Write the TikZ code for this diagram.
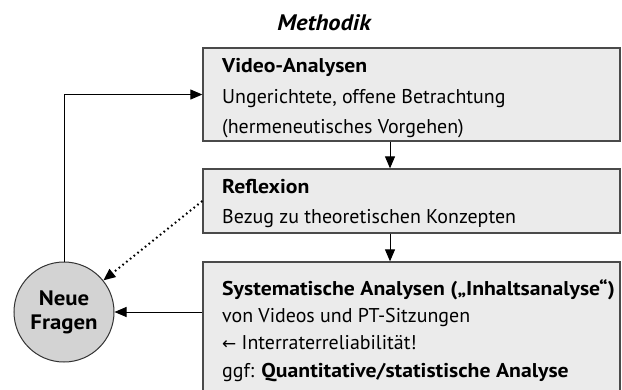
\documentclass[tikz,border=0pt]{standalone}
\usepackage{fontspec}
\setmainfont{PT Sans}[BoldFeatures={FakeStretch=1.09},BoldItalicFeatures={FakeStretch=1.09}]
\newfontfamily\dejavu{DejaVu Sans}
\usetikzlibrary{arrows.meta,calc}
\definecolor{boxfill}{HTML}{EBEBEB}
\definecolor{boxdraw}{HTML}{4A4A4A}
\definecolor{circfill}{HTML}{D3D3D3}
\tikzset{
  box/.style={draw=boxdraw, line width=1.3bp, fill=boxfill, rectangle, inner sep=0pt, minimum width=417bp},
  txt/.style={anchor=base west, inner sep=0pt, font=\fontsize{20}{24}\selectfont},
  btxt/.style={txt, font=\fontsize{20}{24}\selectfont\bfseries},
  arr/.style={line width=1bp, -{Triangle[length=12bp,width=10bp]}},
  dotarr/.style={line width=2bp, dash pattern=on 1.6bp off 3.2bp, -{Triangle[length=12bp,width=10bp]}},
}
\begin{document}
\begin{tikzpicture}[x=1bp,y=-1bp]
\useasboundingbox (0,0) rectangle (622,389);
\node[anchor=base, inner sep=0pt, font=\fontsize{22.5}{26}\selectfont\bfseries\itshape] (title) at (324,30) {Methodik};
\node[box, minimum height=93bp] (b1) at (411.5,94.5) {};
\node[box, minimum height=64bp] (b2) at (411.5,201) {};
\node[box, minimum height=130bp] (b3) at (411.5,327) {};
\node[btxt] (t11) at (222,72) {Video-Analysen};
\node[txt] (t12) at (222,103) {Ungerichtete, offene Betrachtung};
\node[txt] (t13) at (222,133) {(hermeneutisches Vorgehen)};
\node[btxt] (t21) at (222,193) {Reflexion};
\node[txt] (t22) at (222,223) {Bezug zu theoretischen Konzepten};
\node[btxt] (t31) at (222,295) {Systematische Analysen („Inhaltsanalyse“)};
\node[txt] (t32) at (222,322) {von Videos und PT-Sitzungen};
\node[txt] (t33) at (222,349) {{\dejavu\fontsize{17}{20}\selectfont ←} Interraterreliabilität!};
\node[txt] (t34) at (222,377) {ggf: \textbf{Quantitative/statistische Analyse}};
\node[circle, draw=black!80, line width=1bp, fill=circfill, minimum size=100bp, inner sep=0pt, align=center, font=\fontsize{21}{24}\selectfont\bfseries] (nf) at (64,312) {Neue\\Fragen};
\coordinate (ax) at (390,0);
\draw[arr] (nf.north) |- (b1.west);
\draw[arr] (b1.south -| ax) -- (b2.north -| ax);
\draw[arr] (b2.south -| ax) -- (b3.north -| ax);
\draw[dotarr] (b2.west) -- (nf);
\draw[arr] (nf.east -| b3.west) -- (nf.east);
\end{tikzpicture}
\end{document}
